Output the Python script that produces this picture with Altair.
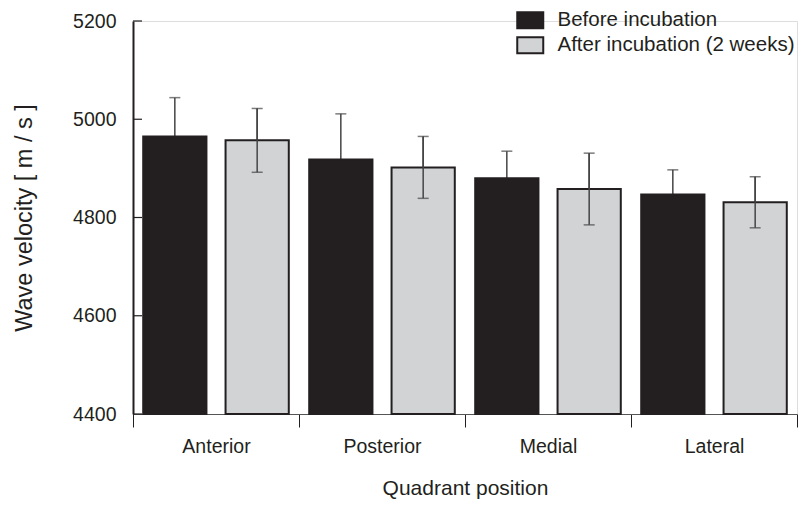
import altair as alt
import pandas as pd

categories = ["Anterior", "Posterior", "Medial", "Lateral"]
series = ["Before incubation", "After incubation (2 weeks)"]
before = [4965, 4918, 4880, 4847]
before_err = [79, 93, 55, 50]
after = [4957, 4902, 4858, 4831]
after_err = [65, 63, 73, 52]
y_ticks = [4400, 4600, 4800, 5000, 5200]

rows = []
for i, q in enumerate(categories):
    rows.append({"quadrant": q, "series": series[0], "value": before[i],
                 "lo": before[i] - before_err[i], "hi": before[i] + before_err[i]})
    rows.append({"quadrant": q, "series": series[1], "value": after[i],
                 "lo": after[i] - after_err[i], "hi": after[i] + after_err[i]})
df = pd.DataFrame(rows)
tick_df = pd.DataFrame({"v": y_ticks})

INK = "#231f20"
GRAY = "#d1d3d4"
FONT = "Liberation Sans"

yscale = alt.Scale(domain=[4400, 5200], zero=False, nice=False)

x_enc = alt.X(
    "quadrant:N", sort=categories,
    scale=alt.Scale(paddingInner=0, paddingOuter=0),
    axis=alt.Axis(
        title="Quadrant position", labelAngle=0, tickBand="extent",
        ticks=True, tickSize=13, tickColor=INK, tickWidth=1,
        domain=True, domainColor="#555555", domainWidth=1,
        labelPadding=10, labelFontSize=19.5, labelColor=INK, labelFont=FONT,
        titleFontSize=21, titleFont=FONT, titleColor=INK, titleFontWeight="normal",
        titlePadding=22,
    ),
)
xo_enc = alt.XOffset("series:N", sort=series,
                     scale=alt.Scale(paddingInner=0.232, paddingOuter=0.124))

y_axis = alt.Axis(
    title="Wave velocity [ m / s ]", values=y_ticks, format="d", ticks=False, grid=False,
    domain=True, domainColor=INK, domainWidth=2,
    labelPadding=17, labelFontSize=19.5, labelColor=INK, labelFont=FONT,
    titleFontSize=23.5, titleFont=FONT, titleColor=INK, titleFontWeight="normal",
    titlePadding=36,
)

color_scale = alt.Scale(domain=series, range=[INK, GRAY])

bars = alt.Chart(df).mark_bar(stroke=INK, strokeWidth=2).encode(
    x=x_enc, xOffset=xo_enc,
    y=alt.Y("value:Q", scale=yscale, axis=y_axis),
    y2=alt.datum(4400),
    fill=alt.Fill("series:N", scale=color_scale, sort=series,
                  legend=alt.Legend(
                      title=None, orient="none", legendX=387, legendY=-11,
                      symbolType="M-1.625,-1H1.625V1H-1.625Z", symbolSize=256,
                      symbolStrokeColor=INK, symbolStrokeWidth=2,
                      labelFontSize=20.5, labelFont=FONT, labelColor=INK,
                      labelOffset=17, labelLimit=400, rowPadding=0, padding=0,
                  )),
)

err_all = alt.Chart(df).mark_rule(color="#444444", strokeWidth=1.5).encode(
    x=x_enc, xOffset=xo_enc, y=alt.Y("lo:Q", scale=yscale), y2="hi:Q")
cap_hi = alt.Chart(df).mark_tick(color="#444444", thickness=1.5, size=11).encode(
    x=x_enc, xOffset=xo_enc, y=alt.Y("hi:Q", scale=yscale))
after_df = df[df["series"] == series[1]]
err_after = alt.Chart(after_df).mark_rule(color="#444444", strokeWidth=1.5).encode(
    x=x_enc, xOffset=xo_enc, y=alt.Y("lo:Q", scale=yscale), y2="hi:Q")
cap_lo = alt.Chart(after_df).mark_tick(color="#444444", thickness=1.5, size=11).encode(
    x=x_enc, xOffset=xo_enc, y=alt.Y("lo:Q", scale=yscale))

yticks = alt.Chart(tick_df).mark_rule(color=INK, strokeWidth=1.2).encode(
    y=alt.Y("v:Q", scale=yscale), x=alt.value(0), x2=alt.value(9))

chart = alt.layer(err_all, cap_hi, bars, err_after, cap_lo, yticks).properties(
    width=664, height=393,
    padding={"left": 4, "top": 2, "right": 0, "bottom": 0},
).configure_view(stroke=None).configure(background="white")

chart.save("out.html", embed_options={"renderer": "svg", "actions": False})
